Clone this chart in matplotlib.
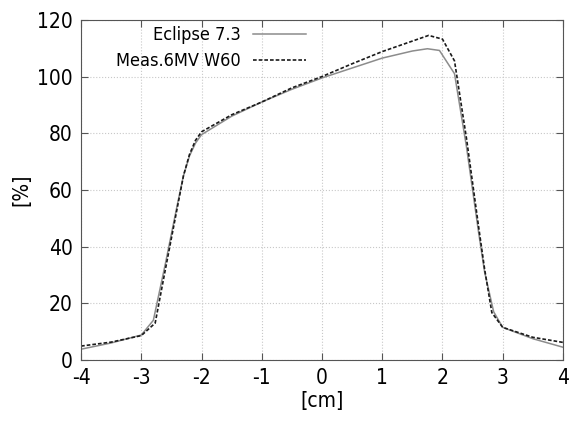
import matplotlib

matplotlib.use("Agg")
import matplotlib.pyplot as plt

# profile positions [cm] and dose [%]
x_eclipse = [-4.0, -3.5, -3.0, -2.8, -2.6, -2.4, -2.3, -2.2, -2.1, -2.0, -1.5, -1.0,
             -0.5, 0.0, 0.5, 1.0, 1.5, 1.75, 1.95, 2.2, 2.4, 2.6, 2.7, 2.85, 3.0,
             3.5, 4.0]
y_eclipse = [3.8, 6.0, 8.8, 14.0, 34.0, 55.0, 65.0, 72.0, 76.5, 79.5, 86.0, 91.0,
             95.5, 99.5, 103.0, 106.5, 109.0, 109.8, 109.2, 101.0, 75.0, 45.0, 31.0,
             17.0, 11.5, 7.5, 4.5]

x_meas = [-4.0, -3.5, -3.0, -2.77, -2.6, -2.4, -2.3, -2.2, -2.1, -2.0, -1.5, -1.0,
          -0.5, 0.0, 0.5, 1.0, 1.5, 1.77, 2.0, 2.2, 2.4, 2.6, 2.7, 2.82, 3.0,
          3.5, 4.0]
y_meas = [4.9, 6.3, 8.6, 13.0, 32.0, 54.0, 65.0, 72.5, 77.5, 80.5, 86.5, 91.0,
          96.0, 100.0, 104.5, 108.8, 112.5, 114.5, 113.2, 105.5, 78.0, 47.0, 32.0,
          16.7, 11.5, 8.0, 6.2]

x_ticks = [-4, -3, -2, -1, 0, 1, 2, 3, 4]
y_ticks = [0, 20, 40, 60, 80, 100, 120]

plt.rcParams["font.family"] = ["DejaVu Sans"]
plt.rcParams["font.stretch"] = "condensed"
plt.rcParams["axes.unicode_minus"] = False

fig, ax = plt.subplots(figsize=(5.75, 4.22), dpi=100)
fig.subplots_adjust(left=0.141, right=0.979, top=0.953, bottom=0.147)

ax.plot(x_eclipse, y_eclipse, color="#8c8c8c", linewidth=1.1, label="Eclipse 7.3")
ax.plot(x_meas, y_meas, color="#1a1a1a", linewidth=1.2, linestyle=(0, (2.2, 1.2)),
        label="Meas.6MV W60")

ax.set_xlim(-4, 4)
ax.set_ylim(0, 120)
ax.set_xticks(x_ticks)
ax.set_yticks(y_ticks)
ax.tick_params(direction="in", top=True, right=True, labelsize=15, length=5,
               color="#555555", pad=6)
ax.grid(True, linestyle=":", color="#c8c8c8", linewidth=0.8)
for spine in ax.spines.values():
    spine.set_color("#555555")

ax.set_xlabel("[cm]", fontsize=15, labelpad=2)
ax.set_ylabel("[%]", fontsize=15, labelpad=4)

ax.legend(loc="upper right", bbox_to_anchor=(0.5, 1.03), frameon=False,
          markerfirst=False, fontsize=13, handlelength=2.9, labelspacing=0.45,
          handletextpad=0.7)

fig.savefig("out.png", dpi=100)
